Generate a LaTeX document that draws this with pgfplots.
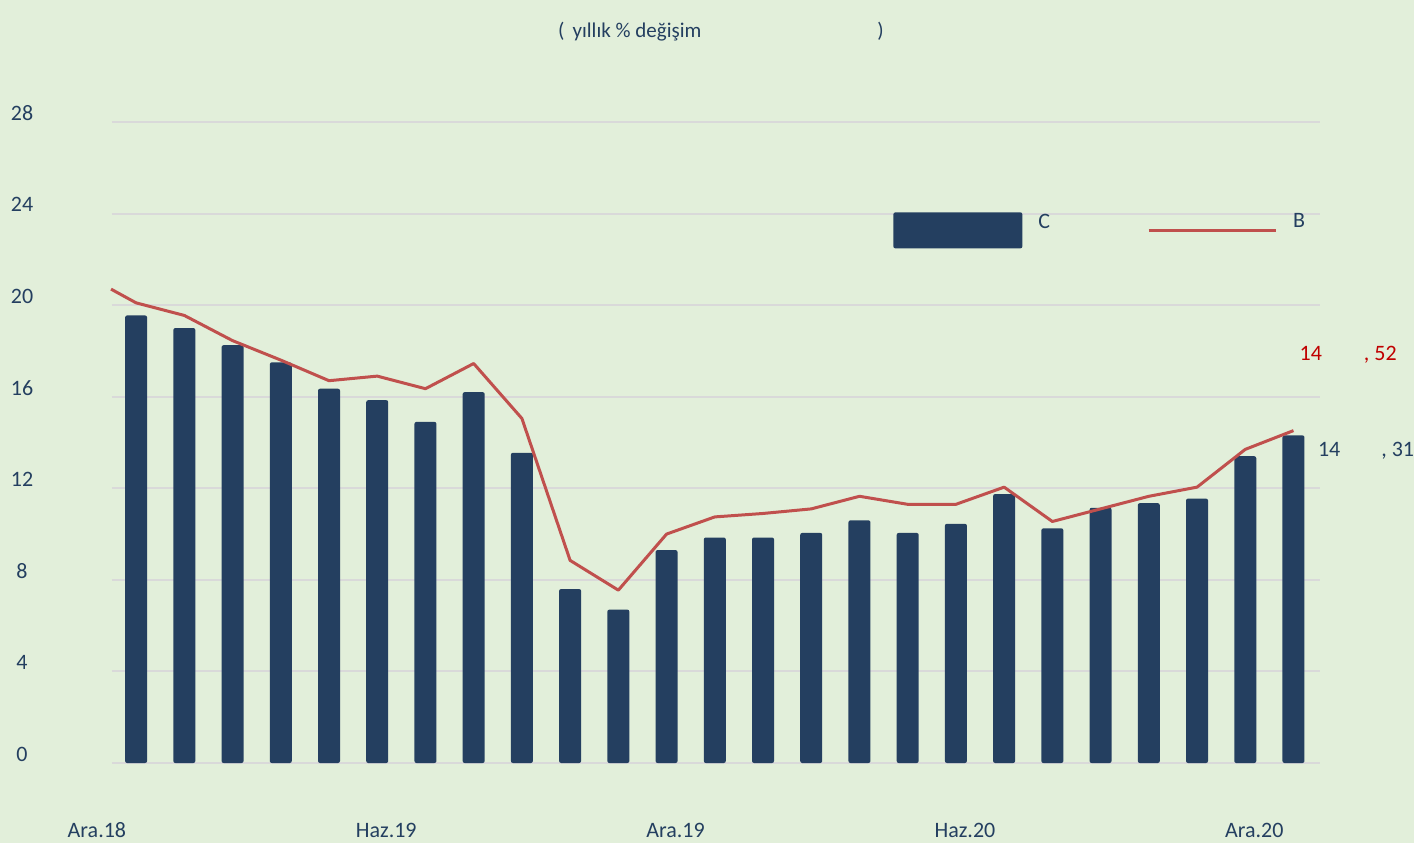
\documentclass[border=0pt]{standalone}
\usepackage{fontspec}
\setmainfont{Carlito}
\usepackage{pgfplots}
\pgfplotsset{compat=1.18}
\definecolor{bg}{HTML}{E2EFDA}
\definecolor{barc}{HTML}{243F60}
\definecolor{linec}{HTML}{C0504D}
\definecolor{txt}{HTML}{243F60}
\definecolor{lbl}{HTML}{C00000}
\definecolor{gridc}{HTML}{D9D9D9}
\begin{document}
\begin{tikzpicture}
\path[use as bounding box] (0,0) rectangle (707pt,421.5pt);
\fill[bg] (0,0) rectangle (707pt,421.5pt);
\node[text=txt, font=\fontsize{10.5}{12}\selectfont, inner sep=0pt] at (360.5pt,405.5pt) {(\hspace{4pt}yıllık \% değişim\hspace{88pt})};
\begin{axis}[
  at={(56pt,40pt)}, anchor=south west, scale only axis,
  width=604pt, height=320.5pt,
  xmin=-0.5, xmax=24.55, ymin=0, ymax=28,
  axis line style={draw=none}, major tick length=0pt,
  ytick={0,4,...,28}, ymajorgrids, grid style={gridc, line width=1pt},
  xtick={0,6,12,18,24},
  xticklabels={Ara.18,Haz.19,Ara.19,Haz.20,Ara.20},
  tick label style={text=txt, font=\fontsize{11}{13}\selectfont},
  /pgf/number format/assume math mode=true,
  yticklabel style={anchor=center, xshift=-45pt, yshift=4.5pt},
  xticklabel style={anchor=center, xshift=-19.6pt, yshift=-33.5pt},
  clip=false,
  legend columns=2,
  legend cell align=left,
  legend style={at={(0.6465,0.833)}, anchor=west, draw=none, fill=none, inner sep=0pt,
    font=\fontsize{11}{13}\selectfont, text=txt,
    /tikz/every odd column/.append style={column sep=6pt},
    /tikz/every even column/.append style={column sep=46.5pt}},
]
\addplot[ybar, bar width=11pt, bar shift=0pt, fill=barc, draw=none, rounded corners=1pt,
  legend image code/.code={\fill[barc, rounded corners=1pt] (0pt,-13pt) rectangle (64.5pt,5pt);}]
coordinates {
(0,19.55) (1,19.0) (2,18.25) (3,17.5) (4,16.35) (5,15.85) (6,14.9) (7,16.2) (8,13.55)
(9,7.6) (10,6.7) (11,9.3) (12,9.85) (13,9.85) (14,10.05) (15,10.6) (16,10.05) (17,10.45)
(18,11.75) (19,10.25) (20,11.15) (21,11.35) (22,11.55) (23,13.4) (24,14.31)};
\addlegendentry{C}
\addplot[linec, line width=1.5pt, mark=none, line join=round,
  legend image code/.code={\draw[linec, line width=1.5pt] (0pt,-4pt) -- (63.5pt,-4pt);}]
coordinates {
(-0.52,20.7) (0,20.1) (1,19.55) (2,18.45) (3,17.6) (4,16.7) (5,16.9) (6,16.35) (7,17.45)
(8,15.05) (9,8.85) (10,7.55) (11,10.0) (12,10.75) (13,10.9) (14,11.1) (15,11.65) (16,11.3)
(17,11.3) (18,12.05) (19,10.55) (20,11.1) (21,11.65) (22,12.05) (23,13.7) (24,14.52)};
\addlegendentry{B}
\node[anchor=west, inner sep=0pt, text=lbl, font=\fontsize{11}{13}\selectfont] at (axis cs:24.12,17.84) {14\hspace{21pt}, 52};
\node[anchor=west, inner sep=0pt, text=txt, font=\fontsize{11}{13}\selectfont] at (axis cs:24.5,13.62) {14\hspace{20.5pt}, 31};
\end{axis}
\end{tikzpicture}
\end{document}
